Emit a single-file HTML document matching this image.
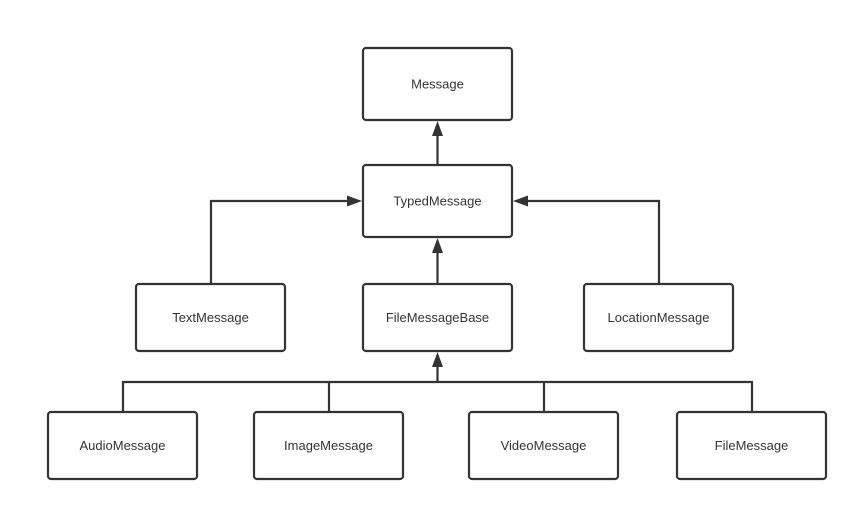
<!DOCTYPE html>
<html><head><meta charset="utf-8"><style>
html,body{margin:0;padding:0;background:#fff;}
svg{display:block;}
text{font-family:"Liberation Sans",sans-serif;font-size:13px;fill:#333;text-anchor:middle;dominant-baseline:central;}
</style></head><body>
<svg width="858" height="511" viewBox="0 0 858 511" xmlns="http://www.w3.org/2000/svg">
<g fill="#fff" stroke="#333" stroke-width="2.2">
<rect x="363" y="48" width="149" height="72" rx="3"/>
<rect x="363" y="165" width="149" height="72" rx="3"/>
<rect x="136" y="284" width="149" height="67" rx="3"/>
<rect x="363" y="284" width="149" height="67" rx="3"/>
<rect x="584" y="284" width="149" height="67" rx="3"/>
<rect x="48" y="412" width="149" height="67" rx="3"/>
<rect x="254" y="412" width="149" height="67" rx="3"/>
<rect x="469" y="412" width="149" height="67" rx="3"/>
<rect x="677" y="412" width="149" height="67" rx="3"/>
</g>
<g fill="none" stroke="#333" stroke-width="2.2">
<path d="M437.5 165V134"/>
<path d="M437.5 284V252"/>
<path d="M211 284V201H349"/>
<path d="M659 284V201H526"/>
<path d="M123 412V382H752V412M329 382V412M544 382V412M437.5 382V366"/>
</g>
<g fill="#333">
<polygon points="437.5,121 432,136 443,136"/>
<polygon points="437.5,238 432,253 443,253"/>
<polygon points="437.5,352 432,367 443,367"/>
<polygon points="362,201 347,195.5 347,206.5"/>
<polygon points="513,201 528,195.5 528,206.5"/>
</g>
<text x="437.5" y="84">Message</text>
<text x="437.5" y="201">TypedMessage</text>
<text x="210.5" y="317.5">TextMessage</text>
<text x="437.5" y="317.5">FileMessageBase</text>
<text x="658.5" y="317.5">LocationMessage</text>
<text x="122.5" y="445.5">AudioMessage</text>
<text x="328.5" y="445.5">ImageMessage</text>
<text x="543.5" y="445.5">VideoMessage</text>
<text x="751.5" y="445.5">FileMessage</text>
</svg>
</body></html>
